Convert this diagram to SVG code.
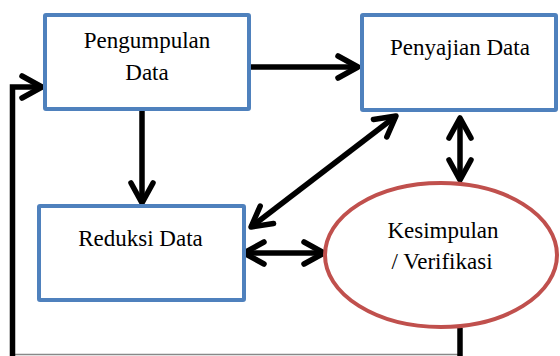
<svg xmlns="http://www.w3.org/2000/svg" width="560" height="356" viewBox="0 0 560 356">
<style>
.box{fill:#fff;stroke:#4F81BD;stroke-width:4}
.ell{fill:#fff;stroke:#C0504D;stroke-width:4}
.lbl{font-family:"Liberation Serif","Times New Roman",serif;font-size:23px;fill:#000;text-anchor:middle}
.con{fill:none;stroke:#000;stroke-width:5.5}
.arr{marker-end:url(#ah)}
.dbl{marker-start:url(#ah);marker-end:url(#ah)}
</style>
<defs>
<marker id="ah" markerUnits="userSpaceOnUse" orient="auto-start-reverse" refX="0" refY="0" markerWidth="40" markerHeight="40" overflow="visible">
<path d="M-20,-11 L0,0 L-20,11" fill="none" stroke="#000" stroke-width="5.5" stroke-linecap="round" stroke-linejoin="round"/>
</marker>
</defs>
<rect width="560" height="356" fill="#fff"/>
<g id="connectors">
<line x1="14" y1="354.5" x2="460" y2="354.5" stroke="#888" stroke-width="1.5"/>
<polyline class="con arr" points="12.5,356 12.5,87 42,87"/>
<line class="con" x1="460" y1="328" x2="460" y2="356"/>
<line class="con arr" x1="250" y1="67" x2="358" y2="67"/>
<line class="con arr" x1="142" y1="110" x2="142" y2="203"/>
<line class="con dbl" x1="460" y1="118" x2="460" y2="180"/>
<line class="con dbl" x1="251" y1="227" x2="396" y2="116"/>
<line class="con dbl" x1="244" y1="253" x2="324" y2="253"/>
</g>
<g id="pengumpulan">
<rect class="box" x="45" y="15" width="204" height="94" rx="1"/>
<text class="lbl" x="147" y="48">Pengumpulan</text>
<text class="lbl" x="147" y="80">Data</text>
</g>
<g id="penyajian">
<rect class="box" x="362" y="15" width="194" height="95" rx="1"/>
<text class="lbl" x="460" y="55">Penyajian Data</text>
</g>
<g id="reduksi">
<rect class="box" x="39" y="206" width="205" height="94" rx="1"/>
<text class="lbl" x="140.5" y="246">Reduksi Data</text>
</g>
<g id="kesimpulan">
<ellipse class="ell" cx="441" cy="255" rx="116" ry="72"/>
<text class="lbl" x="443" y="238">Kesimpulan</text>
<text class="lbl" x="442" y="269">/ Verifikasi</text>
</g>
</svg>
